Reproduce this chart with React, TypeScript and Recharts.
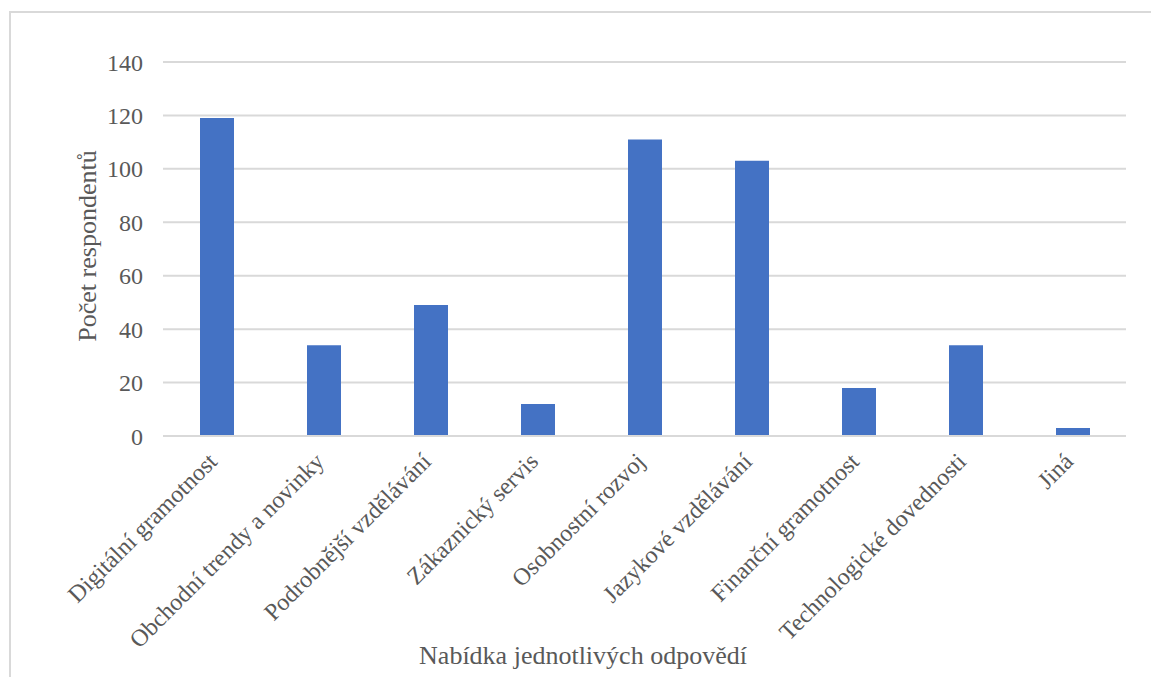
import { Bar, BarChart, CartesianGrid, Label, XAxis, YAxis } from "recharts";

// Nabídka vzdělávání – počet respondentů podle odpovědi.

const categories = [
  "Digitální gramotnost",
  "Obchodní trendy a novinky",
  "Podrobnější vzdělávání",
  "Zákaznický servis",
  "Osobnostní rozvoj",
  "Jazykové vzdělávání",
  "Finanční gramotnost",
  "Technologické dovednosti",
  "Jiná",
];
const respondents = [119, 34, 49, 12, 111, 103, 18, 34, 3];
const yTicks = [0, 20, 40, 60, 80, 100, 120, 140];

const FONT = "'Liberation Serif', 'Times New Roman', serif";
const TEXT = "#595959";
const GRID = "#d9d9d9";

const data = categories.map((name, i) => ({ name, count: respondents[i] }));

function AngledTick({ x, y, payload }: any) {
  return (
    <g transform={`translate(${x + 2},${y + 27})`}>
      <text
        x={0}
        y={0}
        transform="rotate(-45)"
        textAnchor="end"
        fill={TEXT}
        fontSize={24}
        fontFamily={FONT}
      >
        {payload.value}
      </text>
    </g>
  );
}

export default function App() {
  return (
    <div style={{ position: "fixed", left: 0, top: 0, width: 1151, height: 677, background: "#fff" }}>
      <div
        style={{
          position: "absolute",
          left: 9,
          top: 11,
          width: 1300,
          height: 800,
          borderTop: `2px solid ${GRID}`,
          borderLeft: `2px solid ${GRID}`,
        }}
      />
      <div style={{ position: "absolute", left: 0, top: 0 }}>
        <BarChart
          width={1151}
          height={677}
          data={data}
          margin={{ top: 62, right: 25, left: 0, bottom: 0 }}
        >
          <CartesianGrid vertical={false} stroke={GRID} strokeWidth={2} />
          <XAxis
            dataKey="name"
            height={241}
            interval={0}
            axisLine={{ stroke: GRID, strokeWidth: 2 }}
            tickLine={false}
            tickSize={0}
            tickMargin={0}
            tick={<AngledTick />}
          >
            <Label
              content={() => (
                <text
                  x={583}
                  y={664}
                  textAnchor="middle"
                  fill={TEXT}
                  fontSize={26}
                  fontFamily={FONT}
                >
                  Nabídka jednotlivých odpovědí
                </text>
              )}
            />
          </XAxis>
          <YAxis
            width={163}
            domain={[0, 140]}
            ticks={yTicks}
            axisLine={false}
            tickLine={false}
            tickSize={0}
            tickMargin={20}
            tick={{ fill: TEXT, fontSize: 24, fontFamily: FONT }}
          >
            <Label
              content={() => (
                <text
                  x={0}
                  y={0}
                  transform="translate(96,246) rotate(-90)"
                  textAnchor="middle"
                  fill={TEXT}
                  fontSize={26}
                  fontFamily={FONT}
                >
                  Počet respondentů
                </text>
              )}
            />
          </YAxis>
          <Bar dataKey="count" fill="#4472c4" barSize={34} isAnimationActive={false} />
        </BarChart>
      </div>
    </div>
  );
}
